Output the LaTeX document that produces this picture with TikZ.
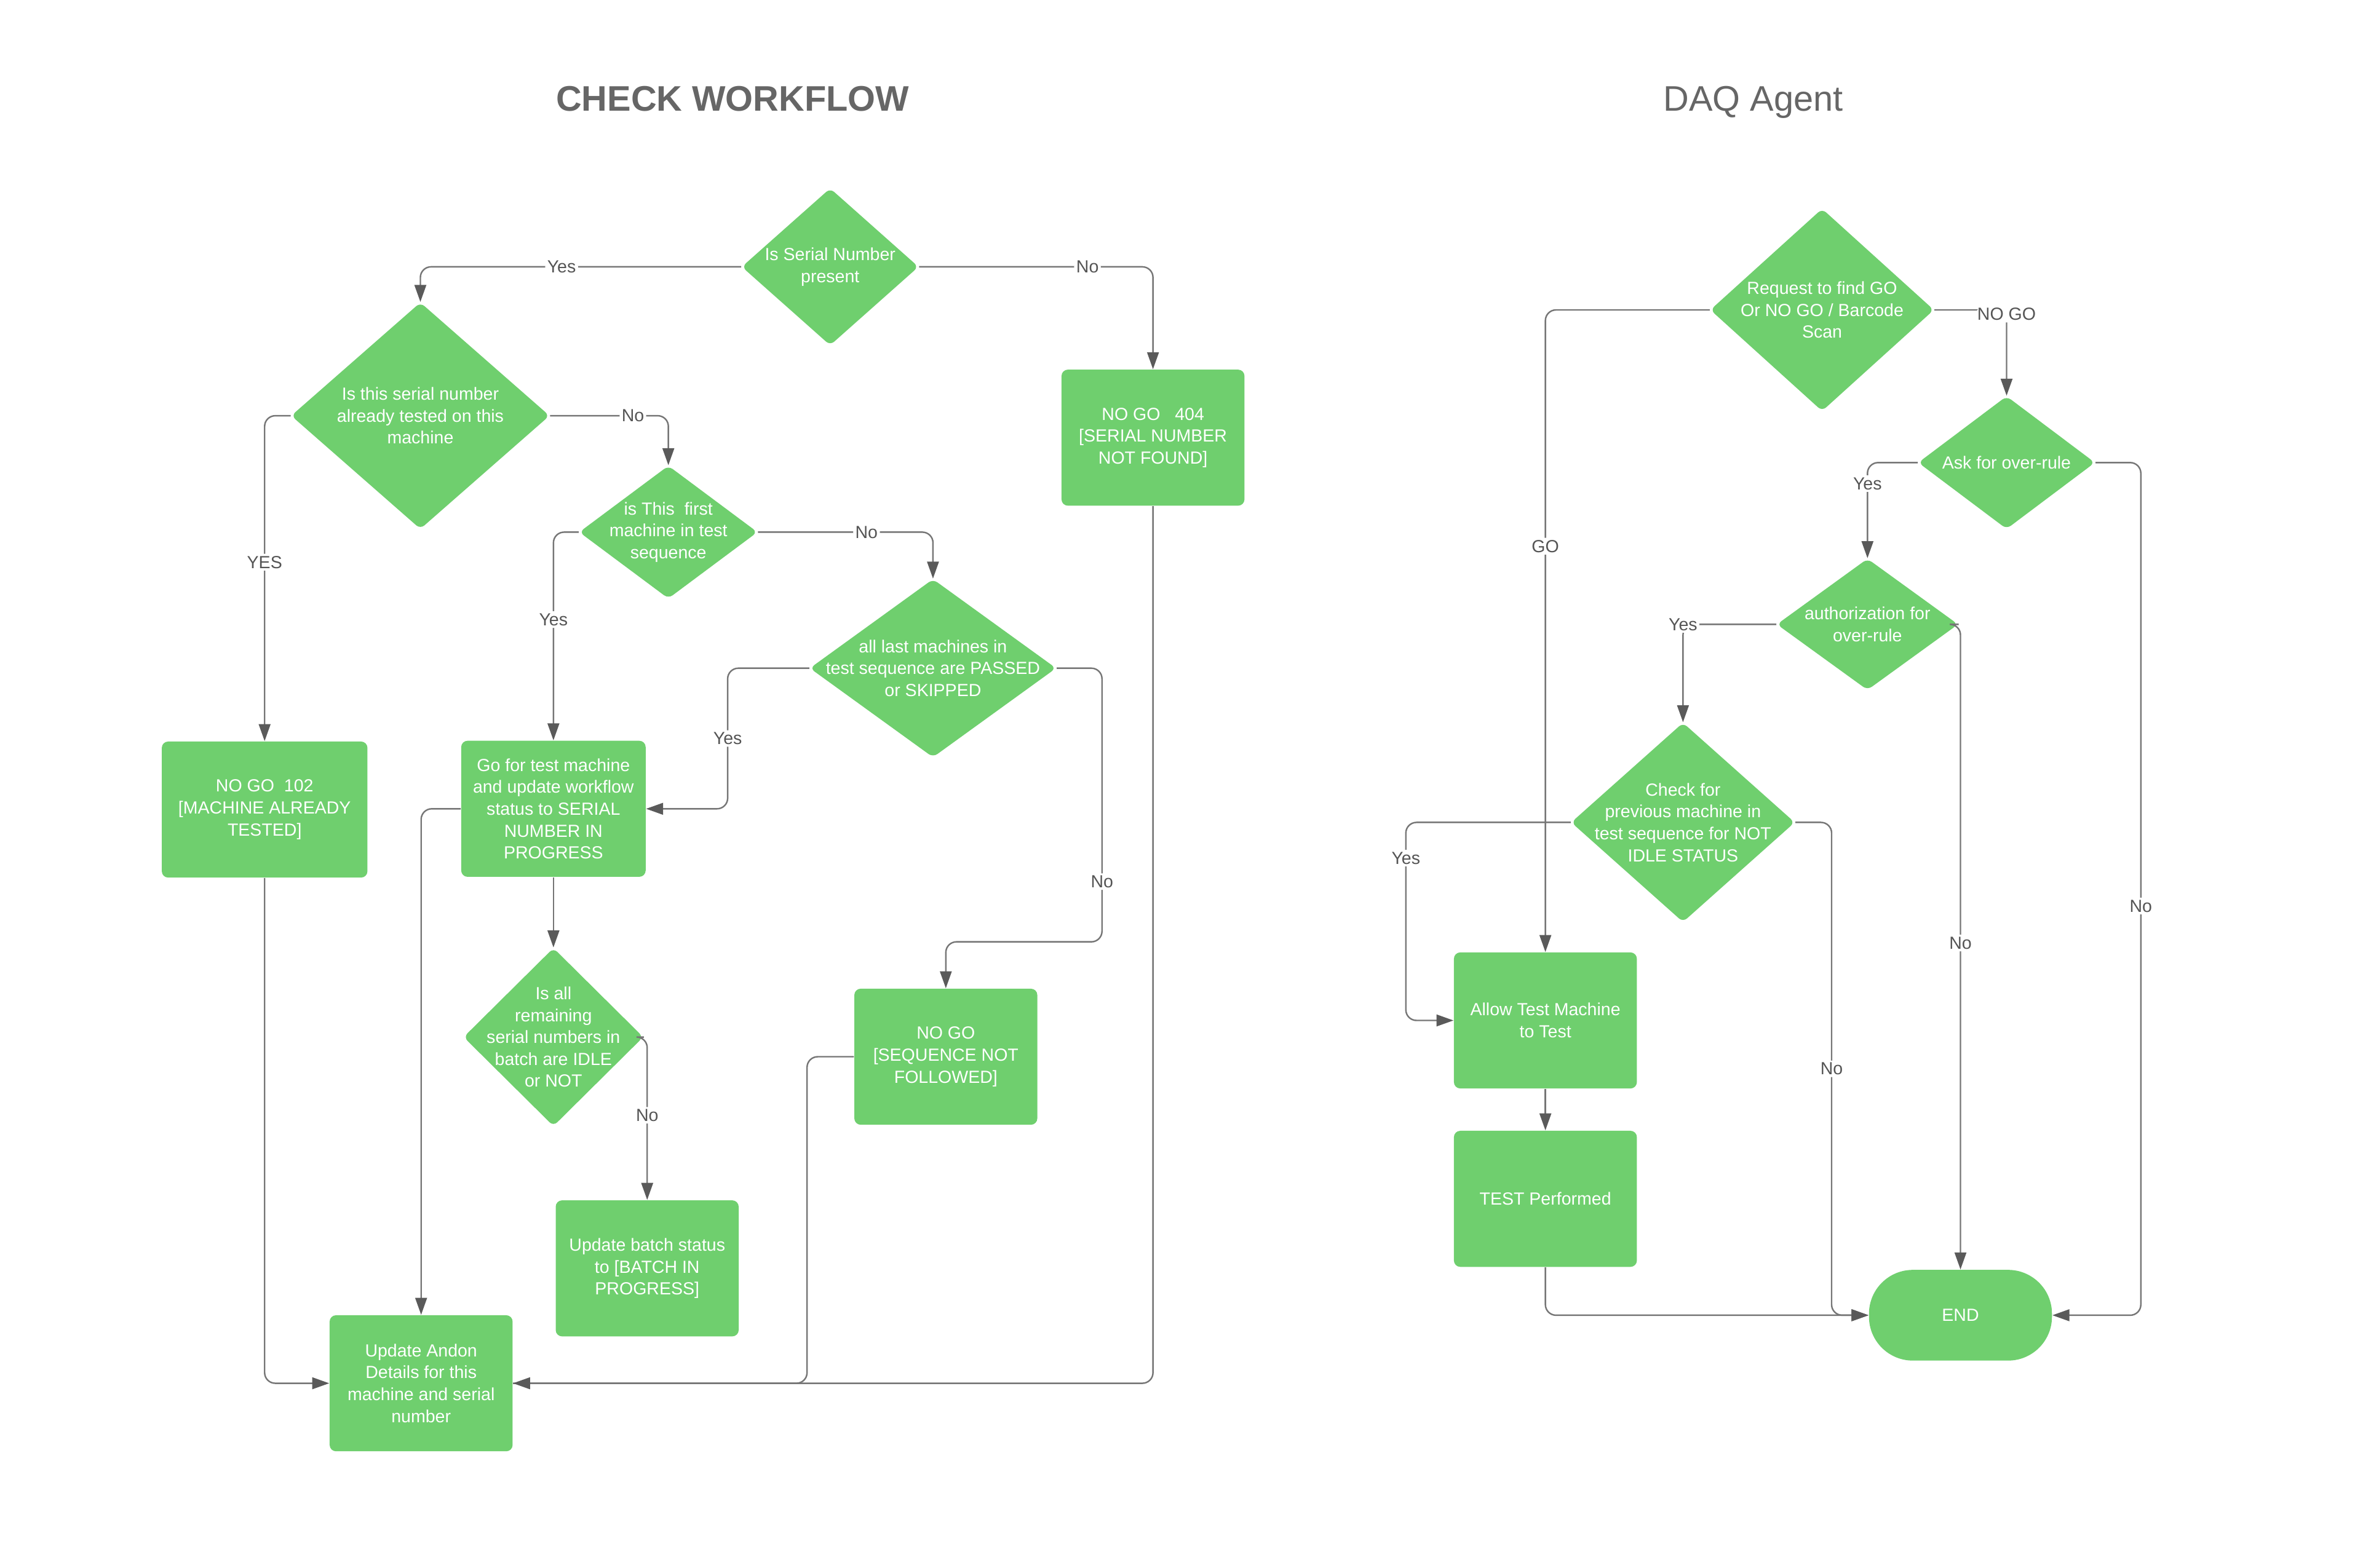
\documentclass[tikz,border=0pt]{standalone}
\usepackage{fontspec}
\setmainfont{Liberation Sans}
\usetikzlibrary{arrows.meta, shapes.geometric, positioning}
\definecolor{boxgreen}{RGB}{111,207,110}
\definecolor{linegray}{RGB}{118,118,118}
\definecolor{tipgray}{RGB}{90,90,90}
\definecolor{labelgray}{RGB}{85,85,85}
\definecolor{titlegray}{RGB}{102,102,102}
\newcommand{\bodyfont}{\fontsize{8.25}{10.3}\selectfont}
\newcommand{\titlefont}{\fontsize{16.7}{20}\selectfont}

\begin{document}
\begin{tikzpicture}[x=0.025cm, y=-0.025cm,
    dec/.style 2 args={diamond, fill=boxgreen, rounded corners=2.5pt, inner sep=0pt, minimum width=#1*0.025cm, minimum height=#2*0.025cm},
    dtext/.style={text=white, font=\bodyfont, align=center},
    box/.style={rectangle, fill=boxgreen, rounded corners=3pt, minimum width=121*0.025cm, minimum height=90*0.025cm, inner sep=1pt, text=white, font=\bodyfont, align=center},
    flow/.style={draw=linegray, line width=0.7pt, rounded corners=5pt, -{Triangle[length=8pt, width=5.5pt, color=tipgray]}},
    plain/.style={draw=linegray, line width=0.7pt, rounded corners=5pt},
    elabel/.style={fill=white, text=labelgray, font=\bodyfont, inner sep=1pt}]
                    \useasboundingbox (0,0) rectangle (1568,1037);
                    \node[font=\titlefont\bfseries, text=titlegray, anchor=base](chktitle) at (484.5,73.6){CHECK WORKFLOW};
                    \node[font=\titlefont, text=titlegray, anchor=base](daqtitle) at (1159.5,73.6){DAQ Agent};

                    \node[dec={117}{104}, label={[dtext]center:Is Serial Number\\present}](serial) at (549,176.5){};
                    \node[dec={171}{150}, label={[dtext]center:Is this serial number\\already tested on this\\machine}](tested) at (278,275){};
                    \node[dec={118}{88}, label={[dtext]center:is This~ first\\machine in test\\sequence}](first) at (442,352){};
                    \node[dec={163}{118}, label={[dtext]center:all last machines in\\test sequence are PASSED\\or SKIPPED}](passed) at (617,442){};
                    \node[box](nf404) at (762.5,289.5){NO GO~~ 404\\{[}SERIAL NUMBER\\NOT FOUND]};
                    \node[box, minimum width=136*0.025cm](ng102) at (175,535.5){NO GO~ 102\\{[}MACHINE ALREADY\\TESTED]};
                    \node[box, minimum width=122*0.025cm](gotest) at (366,535){Go for test machine\\and update workflow\\status to SERIAL\\NUMBER IN\\PROGRESS};
                    \node[dec={119}{118}, label={[dtext]center:Is all\\remaining\\serial numbers in\\batch are IDLE\\or NOT}](idle) at (366,686){};
                    \node[box](seqnf) at (625.5,699){NO GO\\{[}SEQUENCE NOT\\FOLLOWED]};
                    \node[box](batch) at (428,839){Update batch status\\to [BATCH IN\\PROGRESS]};
                    \node[box](andon) at (278.5,915){Update Andon\\Details for this\\machine and serial\\number};

                    \draw[flow] (serial.west) -| node[elabel, pos=0.28]{Yes} (tested.north);
                    \draw[flow] (serial.east) -| node[elabel, pos=0.36]{No} (nf404.north);
                    \draw[flow] (tested.west) -| node[elabel, pos=0.725]{YES} (ng102.north);
                    \draw[flow] (tested.east) -| node[elabel, pos=0.35]{No} (first.north);
                    \draw[flow] (first.west) -| node[elabel, pos=0.71]{Yes} (gotest.north);
                    \draw[flow] (first.east) -| node[elabel, pos=0.31]{No} (passed.north);
                    \draw[flow] (passed.west) -- ++(-54,0) |- node[elabel, pos=0.25]{Yes} (gotest.east);
                    \draw[flow] (passed.east) -- ++(30,0) -- node[elabel, pos=0.78]{No} ++(0,181) -| (seqnf.north);
                    \draw[flow] (gotest.south) -- (idle.north);
                    \draw[flow] (idle.east) -| node[elabel, pos=0.74]{No} (batch.north);
                    \draw[flow] (gotest.west) -| (andon.north);
                    \draw[flow] (ng102.south) |- (andon.west);
                    \draw[plain] (seqnf.west) -- ++(-31,0) |- (andon.east);
                    \draw[flow] (nf404.south) |- (andon.east);

                    \node[dec={148}{134}, label={[dtext]center:Request to find GO\\Or NO GO / Barcode\\Scan}](request) at (1205,205){};
                    \node[dec={117}{88}, label={[dtext]center:Ask for over-rule}](askover) at (1327,306){};
                    \node[dec={120}{87}, label={[dtext]center:authorization for\\over-rule}](authover) at (1235,413){};
                    \node[dec={148}{132}, label={[dtext]center:Check for\\previous machine in\\test sequence for NOT\\IDLE STATUS}](prevchk) at (1113,544){};
                    \node[box](allow) at (1022,675){Allow Test Machine\\to Test};
                    \node[box](performed) at (1022,793){TEST Performed};
                    \node[box, minimum width=121*0.025cm, minimum height=60*0.025cm, rounded corners=29*0.025cm](finish) at (1296.5,870){END};

                    \draw[flow] (request.west) -| node[elabel, pos=0.684]{GO} (allow.north);
                    \draw[flow] (request.east) -| node[elabel, pos=0.5, yshift=-2pt]{NO GO} (askover.north);
                    \draw[flow] (askover.west) -| node[elabel, pos=0.61]{Yes} (authover.north);
                    \draw[flow] (askover.east) -- ++(30,0) |- node[elabel, pos=0.26]{No} (finish.east);
                    \draw[flow] (authover.west) -| node[elabel, pos=0.5]{Yes} (prevchk.north);
                    \draw[flow] (authover.east) -| node[elabel, pos=0.747]{No} (finish.north);
                    \draw[flow] (prevchk.west) -- ++(-109,0) |- node[elabel, pos=0.09]{Yes} (allow.west);
                    \draw[flow] (prevchk.east) -- ++(24,0) |- node[elabel, pos=0.25]{No} (finish.west);
                    \draw[flow] (allow.south) -- (performed.north);
                    \draw[flow] (performed.south) |- (finish.west);
                \end{tikzpicture}
\end{document}
